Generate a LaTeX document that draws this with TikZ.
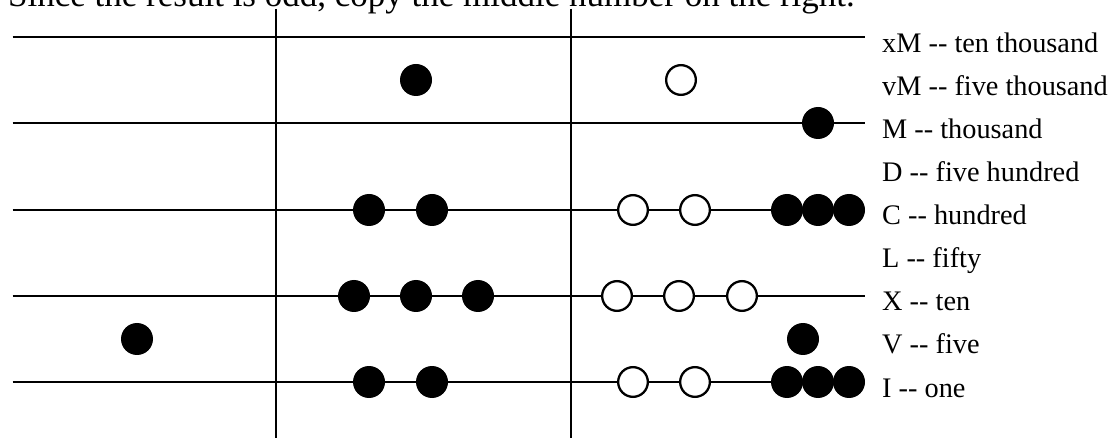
\documentclass[tikz,border=0pt]{standalone}
\usepackage{fontspec}
\setmainfont{Liberation Serif}
\newcommand\dhy{-\kern0pt-}
\begin{document}
\begin{tikzpicture}[x=1pt,y=-1pt,
  rod/.style={line width=2.3pt},
  fbead/.style={circle,fill=black,minimum size=32pt,inner sep=0pt},
  hbead/.style={circle,draw=black,fill=white,line width=2.3pt,minimum size=29.7pt,inner sep=0pt},
  lab/.style={anchor=base west,inner sep=0pt,font=\fontsize{28.3}{30}\selectfont},
  ttl/.style={anchor=base west,inner sep=0pt,font=\fontsize{35}{40}\selectfont}]
\useasboundingbox (0,0) rectangle (1114,438);
% title (cut off at the top)
\node[ttl] (title) at (8,7) {Since the result is odd, copy the middle number on the right.};
% rod end points
\foreach \n/\y in {1/37,2/123,3/210,4/296,5/382}{
  \coordinate (r\n l) at (12.7,\y);
  \coordinate (r\n r) at (865,\y);
}
\coordinate (v1t) at (276,9);
\coordinate (v1b) at (276,440);
\coordinate (v2t) at (571,9);
\coordinate (v2b) at (571,440);
\draw[rod] (r1l) -- (r1r);
\draw[rod] (r2l) -- (r2r);
\draw[rod] (r3l) -- (r3r);
\draw[rod] (r4l) -- (r4r);
\draw[rod] (r5l) -- (r5r);
\draw[rod] (v1t) -- (v1b);
\draw[rod] (v2t) -- (v2b);
% vM row
\node[fbead] (vmA) at (416,80) {};
\node[hbead] (vmB) at (681,80) {};
% M row
\node[fbead] (mC) at (818,123) {};
% C row
\node[fbead] (cA1) at (369,210) {};
\node[fbead] (cA2) at (432,210) {};
\node[hbead] (cB1) at (633,210) {};
\node[hbead] (cB2) at (695,210) {};
\node[fbead] (cC1) at (787,210) {};
\node[fbead] (cC2) at (818,210) {};
\node[fbead] (cC3) at (849,210) {};
% X row
\node[fbead] (xA1) at (354,296) {};
\node[fbead] (xA2) at (416,296) {};
\node[fbead] (xA3) at (478,296) {};
\node[hbead] (xB1) at (617,296) {};
\node[hbead] (xB2) at (679,296) {};
\node[hbead] (xB3) at (742,296) {};
% V row
\node[fbead] (vL) at (137,339) {};
\node[fbead] (vR) at (803,339) {};
% I row
\node[fbead] (iA1) at (369,382) {};
\node[fbead] (iA2) at (432,382) {};
\node[hbead] (iB1) at (633,382) {};
\node[hbead] (iB2) at (695,382) {};
\node[fbead] (iC1) at (787,382) {};
\node[fbead] (iC2) at (818,382) {};
\node[fbead] (iC3) at (849,382) {};
% labels
\node[lab] (l1) at (882,53) {xM \dhy{} ten thousand};
\node[lab] (l2) at (882,96) {vM \dhy{} five thousand};
\node[lab] (l3) at (882,139) {M \dhy{} thousand};
\node[lab] (l4) at (882,182) {D \dhy{} five hundred};
\node[lab] (l5) at (882,225) {C \dhy{} hundred};
\node[lab] (l6) at (882,268) {L \dhy{} fifty};
\node[lab] (l7) at (882,311) {X \dhy{} ten};
\node[lab] (l8) at (882,354) {V \dhy{} five};
\node[lab] (l9) at (882,397) {I \dhy{} one};
\end{tikzpicture}
\end{document}
